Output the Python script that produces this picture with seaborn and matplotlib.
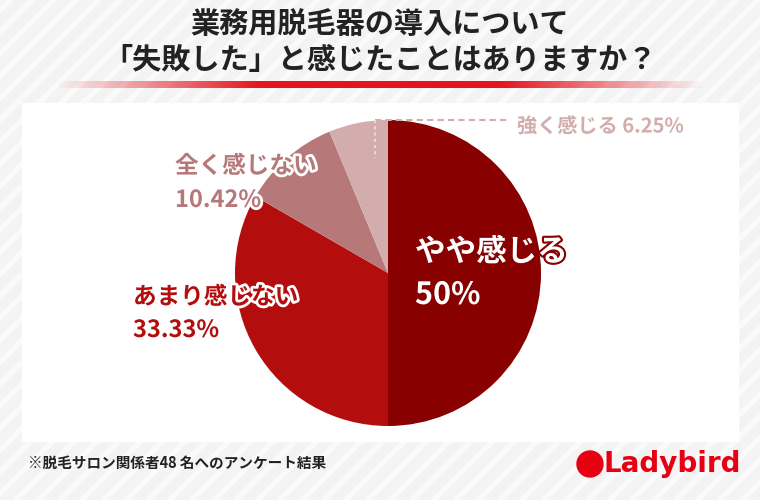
import matplotlib
matplotlib.use("Agg")
import matplotlib.pyplot as plt
import matplotlib.patheffects as pe
import numpy as np
import seaborn as sns

sns.set_theme(style="white")
plt.rcParams['font.family'] = ['Noto Sans CJK JP', 'DejaVu Sans']

categories = ["やや感じる", "あまり感じない", "全く感じない", "強く感じる"]
values = [50, 33.33, 10.42, 6.25]
pct_labels = ["50%", "33.33%", "10.42%", "6.25%"]
colors = ["#880000", "#b30d0d", "#b67878", "#d3adad"]

W, H = 760, 500
fig = plt.figure(figsize=(7.6, 5.0), dpi=100)
fig.patch.set_facecolor("#f3f3f3")
bg = fig.add_axes([0, 0, 1, 1]); bg.set_xlim(0, W); bg.set_ylim(H, 0); bg.axis("off")
for x0 in range(-600, 800, 22):
    bg.plot([x0, x0 + 500], [H, 0], color="white", lw=4, alpha=0.6, zorder=0)
bg.add_patch(plt.Rectangle((22, 103), 716, 338, color="white", zorder=1))
grad = np.linspace(-1, 1, 400)
alpha = np.clip(1.6 - 1.6 * np.abs(grad), 0, 1)
img = np.zeros((1, 400, 4)); img[..., 0] = 0.9; img[..., 1] = 0.08; img[..., 2] = 0.12; img[..., 3] = alpha
bg.imshow(img, extent=(55, 705, 88, 81), aspect="auto", zorder=2)

cx, cy, r = 388, 273, 153
ax = fig.add_axes([(cx - r) / W, 1 - (cy + r) / H, 2 * r / W, 2 * r / H])
ax.pie(values, colors=colors, startangle=90, counterclock=False,
       wedgeprops=dict(linewidth=0))
ax.set_xlim(-1, 1); ax.set_ylim(-1, 1); ax.set_aspect("auto")

top = fig.add_axes([0, 0, 1, 1]); top.set_xlim(0, W); top.set_ylim(H, 0); top.axis("off")
top.patch.set_alpha(0)
top.text(380, 24, "業務用脱毛器の導入について", ha="center", va="center", fontsize=21, fontweight="bold", color="#222")
top.text(380, 60, "「失敗した」と感じたことはありますか？", ha="center", va="center", fontsize=21, fontweight="bold", color="#222")
top.text(28, 463, "※脱毛サロン関係者48 名へのアンケート結果", ha="left", va="center", fontsize=10.5, fontweight="bold", color="#222")
top.add_patch(plt.Circle((590, 464), 13, color="#e60012"))
top.text(604, 464, "Ladybird", ha="left", va="center", fontsize=20, fontweight="bold", color="#e60012", family="DejaVu Sans")

stroke = [pe.withStroke(linewidth=4, foreground="white")]
def lab(x, y, s, c, fs, eff=stroke):
    top.text(x, y, s, ha="left", va="center", fontsize=fs, fontweight="bold", color=c, path_effects=eff)

dark = [pe.withStroke(linewidth=3, foreground="#880000")]
lab(415, 252, categories[0], "white", 22, eff=dark)
lab(415, 295, pct_labels[0], "white", 22, eff=dark)
lab(133, 297, categories[1], "#b30d0d", 17)
lab(133, 330, pct_labels[1], "#b30d0d", 17)
lab(175, 166, categories[2], "#b67878", 17)
lab(175, 200, pct_labels[2], "#b67878", 17)
lab(517, 126, categories[3] + " " + pct_labels[3], "#d3adad", 14.5)
top.plot([375, 510], [120, 120], ls=(0, (3, 2)), color="#d3adad", lw=1.5)
top.plot([375, 375], [120, 158], ls=(0, (1.5, 1.5)), color="#e8d6d6", lw=1.5)

fig.savefig("out.png", dpi=100, facecolor=fig.get_facecolor())
